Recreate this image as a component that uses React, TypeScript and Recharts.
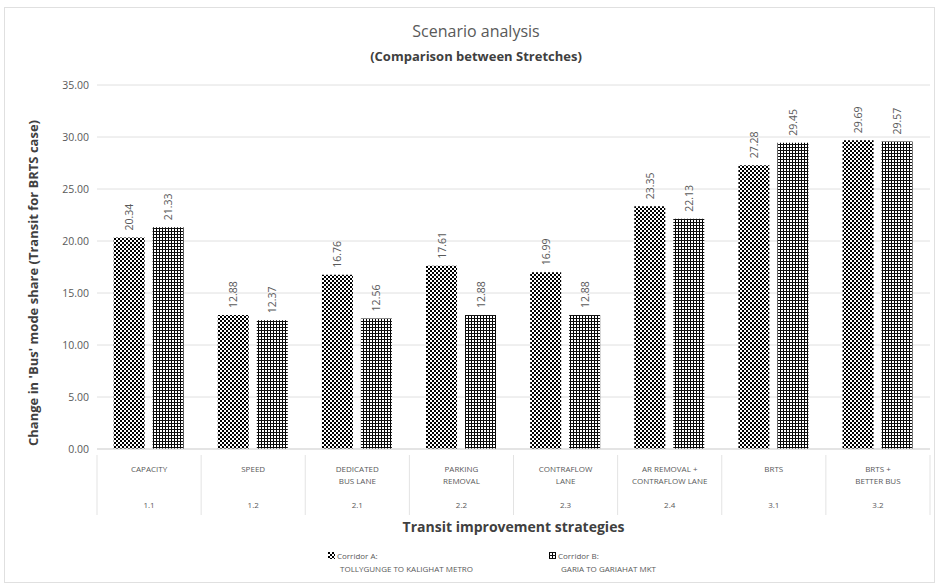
import { Bar, BarChart, CartesianGrid, Label, LabelList, XAxis, YAxis } from "recharts";

const strategies = [
  "CAPACITY",
  "SPEED",
  "DEDICATED BUS LANE",
  "PARKING REMOVAL",
  "CONTRAFLOW LANE",
  "AR REMOVAL + CONTRAFLOW LANE",
  "BRTS",
  "BRTS + BETTER BUS",
];
const strategyLines = [
  ["CAPACITY"],
  ["SPEED"],
  ["DEDICATED", "BUS LANE"],
  ["PARKING", "REMOVAL"],
  ["CONTRAFLOW", "LANE"],
  ["AR REMOVAL +", "CONTRAFLOW LANE"],
  ["BRTS"],
  ["BRTS +", "BETTER BUS"],
];
const codes = ["1.1", "1.2", "2.1", "2.2", "2.3", "2.4", "3.1", "3.2"];
const corridorA = [20.34, 12.88, 16.76, 17.61, 16.99, 23.35, 27.28, 29.69];
const corridorB = [21.33, 12.37, 12.56, 12.88, 12.88, 22.13, 29.45, 29.57];
const yTicks = [0, 5, 10, 15, 20, 25, 30, 35];

const data = strategies.map((name, i) => ({
  name,
  a: corridorA[i],
  b: corridorB[i],
}));

const FONT = "'Open Sans', sans-serif";
const GREY = "#595959";
const W = 939;
const H = 586;
const X_HEIGHT = 60;
const MARGIN = { top: 85, right: 9, bottom: 137 - X_HEIGHT, left: 47 };
const Y_WIDTH = 50;
const PLOT_W = W - MARGIN.left - Y_WIDTH - MARGIN.right;

// fill patterns for the two corridors (checkerboard and plaid)
const Patterns = () => (
  <svg width={0} height={0} style={{ position: "absolute" }}>
    <defs>
      <pattern id="checkA" width={4} height={4} patternUnits="userSpaceOnUse">
        <rect width={4} height={4} fill="#fff" />
        <rect x={0} y={0} width={2} height={2} fill="#000" />
        <rect x={2} y={2} width={2} height={2} fill="#000" />
      </pattern>
      <pattern id="plaidB" width={3} height={3} patternUnits="userSpaceOnUse">
        <rect width={3} height={3} fill="#fff" />
        <rect x={0} y={0} width={1} height={3} fill="#000" />
        <rect x={0} y={0} width={3} height={1} fill="#111" />
      </pattern>
    </defs>
  </svg>
);

const CategoryTick = (props: any) => {
  const { x, y, payload } = props;
  const i = strategies.indexOf(payload.value);
  const half = PLOT_W / strategies.length / 2;
  const lines = strategyLines[i] || [payload.value];
  return (
    <g>
      <line x1={x - half} y1={y - 2} x2={x - half} y2={y + 58} stroke="#e3e3e3" />
      {i === strategies.length - 1 && (
        <line x1={x + half} y1={y - 2} x2={x + half} y2={y + 58} stroke="#e3e3e3" />
      )}
      {lines.map((t, k) => (
        <text
          key={t}
          x={x}
          y={y + 15 + k * 12}
          textAnchor="middle"
          fontSize={8}
          fill={GREY}
          fontFamily={FONT}
        >
          {t}
        </text>
      ))}
      <text x={x} y={y + 51} textAnchor="middle" fontSize={8} fill={GREY} fontFamily={FONT}>
        {codes[i]}
      </text>
    </g>
  );
};

const ValueLabel = (props: any) => {
  const { x, y, width, value } = props;
  const cx = x + width / 2;
  const cy = y - 7;
  return (
    <text
      x={cx}
      y={cy}
      transform={`rotate(-90, ${cx}, ${cy})`}
      textAnchor="start"
      dominantBaseline="central"
      fontSize={10.5}
      fill={GREY}
      fontFamily={FONT}
    >
      {Number(value).toFixed(2)}
    </text>
  );
};

const YTitle = (props: any) => {
  const vb = props.viewBox || {};
  const cy = (vb.y ?? 85) + (vb.height ?? 364) / 2 + 16;
  return (
    <text
      x={33}
      y={cy}
      transform={`rotate(-90, 33, ${cy})`}
      textAnchor="middle"
      dominantBaseline="central"
      fontSize={13}
      fontWeight={700}
      fill="#404040"
      fontFamily={FONT}
    >
      Change in 'Bus' mode share (Transit for BRTS case)
    </text>
  );
};

const legendItems = [
  { id: "checkA", label: "Corridor A:", sub: "TOLLYGUNGE TO KALIGHAT METRO", left: 328 },
  { id: "plaidB", label: "Corridor B:", sub: "GARIA TO GARIAHAT MKT", left: 549 },
];

export default function App() {
  return (
    <div
      style={{
        position: "absolute",
        left: 0,
        top: 0,
        width: W,
        height: H,
        background: "#fff",
        fontFamily: FONT,
      }}
    >
      <Patterns />
      <div
        style={{
          position: "absolute",
          left: 4,
          top: 7,
          width: 929,
          height: 574,
          border: "1px solid #e0e0e0",
        }}
      />
      <div
        style={{
          position: "absolute",
          top: 20,
          left: 0,
          width: 952,
          textAlign: "center",
          fontSize: 16,
          color: GREY,
        }}
      >
        Scenario analysis
      </div>
      <div
        style={{
          position: "absolute",
          top: 47,
          left: 0,
          width: 952,
          textAlign: "center",
          fontSize: 13,
          fontWeight: 700,
          color: "#404040",
        }}
      >
        (Comparison between Stretches)
      </div>
      <BarChart
        width={W}
        height={H}
        data={data}
        margin={MARGIN}
        barCategoryGap="16%"
        barGap={8}
        style={{ position: "absolute", left: 0, top: 0 }}
      >
        <CartesianGrid vertical={false} stroke="#e0e0e0" />
        <XAxis
          dataKey="name"
          interval={0}
          tickLine={false}
          axisLine={{ stroke: "#d9d9d9" }}
          tick={<CategoryTick />}
          height={X_HEIGHT}
        />
        <YAxis
          domain={[0, 35]}
          ticks={yTicks}
          width={Y_WIDTH}
          tickLine={false}
          axisLine={false}
          tickFormatter={(v: number) => v.toFixed(2)}
          tick={{ fontSize: 10.5, fill: GREY, fontFamily: FONT }}
        >
          <Label content={<YTitle />} />
        </YAxis>
        <Bar dataKey="a" fill="url(#checkA)" isAnimationActive={false}>
          <LabelList dataKey="a" content={<ValueLabel />} />
        </Bar>
        <Bar dataKey="b" fill="url(#plaidB)" isAnimationActive={false}>
          <LabelList dataKey="b" content={<ValueLabel />} />
        </Bar>
      </BarChart>
      <div
        style={{
          position: "absolute",
          top: 517,
          left: 97,
          width: PLOT_W,
          textAlign: "center",
          fontSize: 14,
          fontWeight: 700,
          color: "#404040",
        }}
      >
        Transit improvement strategies
      </div>
      {legendItems.map((it) => (
        <div
          key={it.id}
          style={{
            position: "absolute",
            top: 549,
            left: it.left,
            fontSize: 8,
            color: GREY,
            lineHeight: "13px",
          }}
        >
          <div style={{ display: "flex", alignItems: "center", gap: 2 }}>
            <svg width={7} height={7}>
              <rect width={7} height={7} fill={`url(#${it.id})`} />
            </svg>
            <span>{it.label}</span>
          </div>
          <div style={{ paddingLeft: 12 }}>{it.sub}</div>
        </div>
      ))}
    </div>
  );
}
